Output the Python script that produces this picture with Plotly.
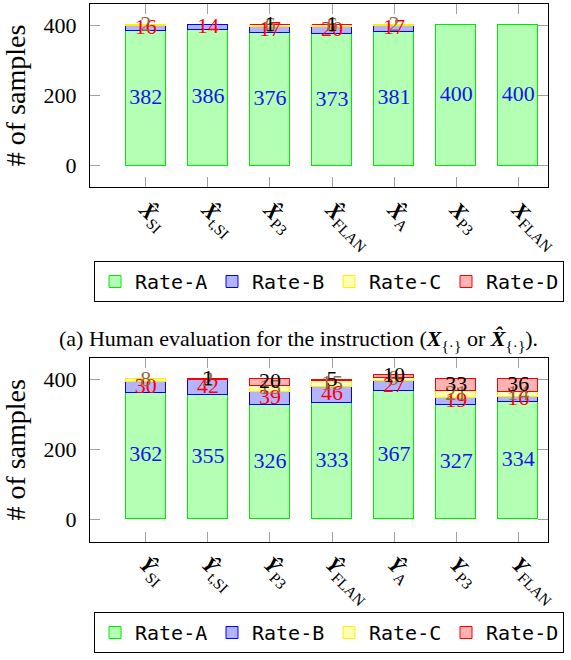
import plotly.graph_objects as go

# ---------------- data ----------------
x_positions = [0, 1, 2, 3, 4, 5, 6]
x_ticklabels_top = [
    "<b><i>X\u0302</i></b><sub>SI</sub>",
    "<b><i>X\u0302</i></b><sub>t,SI</sub>",
    "<b><i>X\u0302</i></b><sub>P3</sub>",
    "<b><i>X\u0302</i></b><sub>FLAN</sub>",
    "<b><i>X\u0302</i></b><sub>A</sub>",
    "<b><i>X</i></b><sub>P3</sub>",
    "<b><i>X</i></b><sub>FLAN</sub>",
]
x_ticklabels_bot = [
    "<b><i>Y\u0302</i></b><sub>SI</sub>",
    "<b><i>Y\u0302</i></b><sub>t,SI</sub>",
    "<b><i>Y\u0302</i></b><sub>P3</sub>",
    "<b><i>Y\u0302</i></b><sub>FLAN</sub>",
    "<b><i>Y\u0302</i></b><sub>A</sub>",
    "<b><i>Y</i></b><sub>P3</sub>",
    "<b><i>Y</i></b><sub>FLAN</sub>",
]
series_names = ["Rate-A", "Rate-B", "Rate-C", "Rate-D"]

# instruction evaluation (top)
top_rate_a = [382, 386, 376, 373, 381, 400, 400]
top_rate_b = [16, 14, 17, 20, 17, 0, 0]
top_rate_c = [2, 0, 6, 6, 2, 0, 0]
top_rate_d = [0, 0, 1, 1, 0, 0, 0]

# response evaluation (bottom)
bot_rate_a = [362, 355, 326, 333, 367, 327, 334]
bot_rate_b = [30, 42, 39, 46, 27, 19, 16]
bot_rate_c = [8, 2, 15, 15, 9, 21, 14]
bot_rate_d = [0, 1, 20, 5, 10, 33, 36]

y_tickvals = [0, 200, 400]

caption = ("(a) Human evaluation for the instruction ("
           "<b><i>X</i></b><sub>{·}</sub> or <b><i>X\u0302</i></b><sub>{·}</sub>).")

# ---------------- styles ----------------
fill_colors = ["rgb(179,255,179)", "rgb(179,179,255)", "rgb(255,255,179)", "rgb(255,179,179)"]
line_colors = ["rgb(0,235,0)", "rgb(0,0,255)", "rgb(255,240,0)", "rgb(255,0,0)"]
label_colors = ["rgb(20,20,235)", "rgb(255,0,0)", "rgb(150,105,60)", "rgb(0,0,0)"]
SERIF = "Liberation Serif, Times New Roman, serif"
W, H = 571, 660

fig = go.Figure()


def add_panel(series, xa, ya, legend_name):
    base = [0] * len(x_positions)
    for i, vals in enumerate(series):
        fig.add_trace(go.Bar(
            x=x_positions,
            y=[v if v else None for v in vals],
            name=series_names[i],
            width=0.645,
            marker=dict(color=fill_colors[i], line=dict(color=line_colors[i], width=1)),
            xaxis=xa, yaxis=ya,
            legend=legend_name,
            showlegend=True,
            hoverinfo="skip",
        ))
    for i, vals in enumerate(series):
        mids = [b + v / 2 for b, v in zip(base, vals)]
        fig.add_trace(go.Scatter(
            x=x_positions, y=mids,
            mode="text",
            text=[str(v) if v else "" for v in vals],
            textfont=dict(family=SERIF, size=22, color=label_colors[i]),
            xaxis=xa, yaxis=ya,
            showlegend=False, hoverinfo="skip", cliponaxis=False,
        ))
        base = [b + v for b, v in zip(base, vals)]


add_panel([top_rate_a, top_rate_b, top_rate_c, top_rate_d], "x", "y", "legend")
add_panel([bot_rate_a, bot_rate_b, bot_rate_c, bot_rate_d], "x2", "y2", "legend2")

x_dom = [90 / W, 548 / W]
common_x = dict(
    domain=x_dom, range=[-0.9, 6.48], tickmode="array", tickvals=x_positions,
    tickangle=45, ticks="inside", ticklen=10, tickcolor="rgb(160,160,160)",
    showline=True, linecolor="black", linewidth=1, mirror="ticks",
    showgrid=False, zeroline=False, automargin=False,
    tickfont=dict(family=SERIF, size=22, color="black"),
)
common_y = dict(
    tickvals=y_tickvals, ticks="inside", ticklen=10, tickcolor="rgb(160,160,160)",
    showline=True, linecolor="black", linewidth=1, mirror="ticks",
    showgrid=False, zeroline=False, ticklabelstandoff=8, automargin=False,
    tickfont=dict(family=SERIF, size=22, color="black"),
    title=dict(text="# of samples", font=dict(family=SERIF, size=28, color="black"), standoff=16),
)

legend_common = dict(
    orientation="h", x=94 / W, xanchor="left", yanchor="top",
    bordercolor="black", borderwidth=1, bgcolor="white",
    font=dict(family="DejaVu Sans Mono", size=20, color="black"),
    itemwidth=30, traceorder="normal", entrywidth=72, entrywidthmode="pixels",
)

fig.update_layout(
    template="none",
    width=W, height=H,
    margin=dict(l=0, r=0, t=0, b=0, autoexpand=False),
    paper_bgcolor="white", plot_bgcolor="white",
    barmode="stack", bargap=0,
    xaxis=dict(**common_x, anchor="y", ticktext=x_ticklabels_top),
    yaxis=dict(**common_y, anchor="x", domain=[1 - 187 / H, 1 - 4 / H], range=[-60.6, 459.7]),
    xaxis2=dict(**common_x, anchor="y2", ticktext=x_ticklabels_bot),
    yaxis2=dict(**common_y, anchor="x2", domain=[1 - 541.7 / H, 1 - 358 / H], range=[-64, 461]),
    legend=dict(**legend_common, y=1 - 261 / H),
    legend2=dict(**legend_common, y=1 - 612 / H),
    annotations=[dict(
        text=caption,
        x=298 / W, y=1 - 340 / H, xref="paper", yref="paper",
        xanchor="center", yanchor="middle", showarrow=False,
        font=dict(family=SERIF, size=22, color="black"),
    )],
)

fig.write_html("out.html", config={"displayModeBar": False},
               post_script="document.body.style.margin='0px';")
